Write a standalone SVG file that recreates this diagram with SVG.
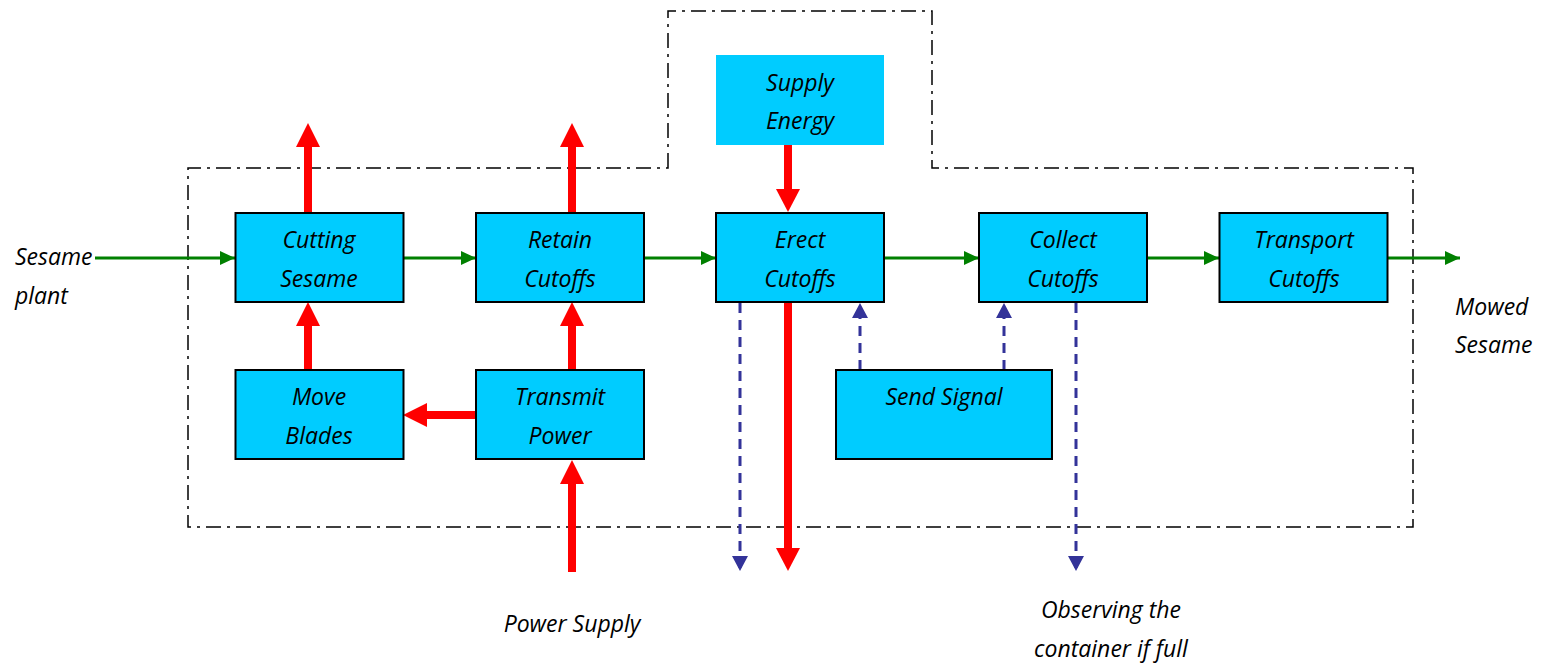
<svg xmlns="http://www.w3.org/2000/svg" width="1549" height="666" viewBox="0 0 1549 666">
<style>
.box{fill:#00ccff;stroke:#000;stroke-width:2}
.nob{fill:#00ccff;stroke:none}
.t{font-family:"Open Sans","Noto Sans","Liberation Sans",sans-serif;font-style:italic;font-size:23px;fill:#000;text-anchor:middle}
.tl{font-family:"Open Sans","Noto Sans","Liberation Sans",sans-serif;font-style:italic;font-size:23px;fill:#000}
.g{stroke:#008000;stroke-width:3;fill:none}
.r{stroke:#ff0000;stroke-width:8;fill:none}
.rh{fill:#ff0000}
.b{stroke:#333399;stroke-width:3;fill:none;stroke-dasharray:10 7}
.bd{stroke:#000;stroke-width:1.5;fill:none;stroke-dasharray:15 6 3 6}
</style>
<defs>
<marker id="ga" markerUnits="userSpaceOnUse" markerWidth="16" markerHeight="16" refX="15" refY="7" orient="auto"><path d="M0,0 L15,7 L0,14 Z" fill="#008000"/></marker>
<marker id="ba" markerUnits="userSpaceOnUse" markerWidth="18" markerHeight="18" refX="15" refY="8" orient="auto"><path d="M0,0 L15,8 L0,16 Z" fill="#333399"/></marker>
</defs>
<g id="boundary">
<path class="bd" d="M668,168 L668,11 L932,11 L932,168 L1413,168 L1413,527 L188,527 L188,168 Z"/>
</g>
<g id="connectors">
<line class="g" x1="95" y1="258" x2="235" y2="258" marker-end="url(#ga)"/>
<line class="g" x1="404" y1="258" x2="476" y2="258" marker-end="url(#ga)"/>
<line class="g" x1="644" y1="258" x2="716" y2="258" marker-end="url(#ga)"/>
<line class="g" x1="884" y1="258" x2="979" y2="258" marker-end="url(#ga)"/>
<line class="g" x1="1147" y1="258" x2="1219" y2="258" marker-end="url(#ga)"/>
<line class="g" x1="1388" y1="258" x2="1460" y2="258" marker-end="url(#ga)"/>
<line class="r" x1="308" y1="213" x2="308" y2="146"/><polygon class="rh" points="296,147 308,123 320,147"/>
<line class="r" x1="572" y1="213" x2="572" y2="146"/><polygon class="rh" points="560,147 572,123 584,147"/>
<line class="r" x1="788" y1="145" x2="788" y2="190"/><polygon class="rh" points="776,189 788,212 800,189"/>
<line class="r" x1="308" y1="370" x2="308" y2="325"/><polygon class="rh" points="296,326 308,302 320,326"/>
<line class="r" x1="572" y1="370" x2="572" y2="325"/><polygon class="rh" points="560,326 572,302 584,326"/>
<line class="r" x1="476" y1="415" x2="426" y2="415"/><polygon class="rh" points="427,403 403,415 427,427"/>
<line class="r" x1="572" y1="572" x2="572" y2="483"/><polygon class="rh" points="560,484 572,460 584,484"/>
<line class="r" x1="788" y1="303" x2="788" y2="549"/><polygon class="rh" points="776,548 788,571 800,548"/>
<line class="b" x1="740" y1="303" x2="740" y2="571" marker-end="url(#ba)"/>
<line class="b" x1="860" y1="370" x2="860" y2="303" marker-end="url(#ba)"/>
<line class="b" x1="1004" y1="370" x2="1004" y2="303" marker-end="url(#ba)"/>
<line class="b" x1="1076" y1="303" x2="1076" y2="571" marker-end="url(#ba)"/>
</g>
<g id="supply-energy">
<rect class="nob" x="716" y="55" width="168" height="90"/>
<text class="t" x="800" y="91">Supply</text>
<text class="t" x="800" y="129">Energy</text>
</g>
<g id="cutting-sesame">
<rect class="box" x="235.5" y="213" width="168" height="89"/>
<text class="t" x="319" y="248">Cutting</text>
<text class="t" x="319" y="287">Sesame</text>
</g>
<g id="retain-cutoffs">
<rect class="box" x="476" y="213" width="168" height="89"/>
<text class="t" x="560" y="248">Retain</text>
<text class="t" x="560" y="287">Cutoffs</text>
</g>
<g id="erect-cutoffs">
<rect class="box" x="716" y="213" width="168" height="89"/>
<text class="t" x="800" y="248">Erect</text>
<text class="t" x="800" y="287">Cutoffs</text>
</g>
<g id="collect-cutoffs">
<rect class="box" x="979" y="213" width="168" height="89"/>
<text class="t" x="1063" y="248">Collect</text>
<text class="t" x="1063" y="287">Cutoffs</text>
</g>
<g id="transport-cutoffs">
<rect class="box" x="1219.5" y="213" width="168" height="89"/>
<text class="t" x="1304" y="248">Transport</text>
<text class="t" x="1304" y="287">Cutoffs</text>
</g>
<g id="move-blades">
<rect class="box" x="235.5" y="370" width="168" height="89"/>
<text class="t" x="319" y="405">Move</text>
<text class="t" x="319" y="444">Blades</text>
</g>
<g id="transmit-power">
<rect class="box" x="476" y="370" width="168" height="89"/>
<text class="t" x="560" y="405">Transmit</text>
<text class="t" x="560" y="444">Power</text>
</g>
<g id="send-signal">
<rect class="box" x="836" y="370" width="216" height="89"/>
<text class="t" x="944" y="405">Send Signal</text>
</g>
<g id="labels">
<text class="tl" x="15" y="265">Sesame</text>
<text class="tl" x="15" y="304">plant</text>
<text class="tl" x="1455" y="315">Mowed</text>
<text class="tl" x="1455" y="353">Sesame</text>
<text class="t" x="572" y="632">Power Supply</text>
<text class="t" x="1111" y="618">Observing the</text>
<text class="t" x="1111" y="657">container if full</text>
</g>
</svg>
